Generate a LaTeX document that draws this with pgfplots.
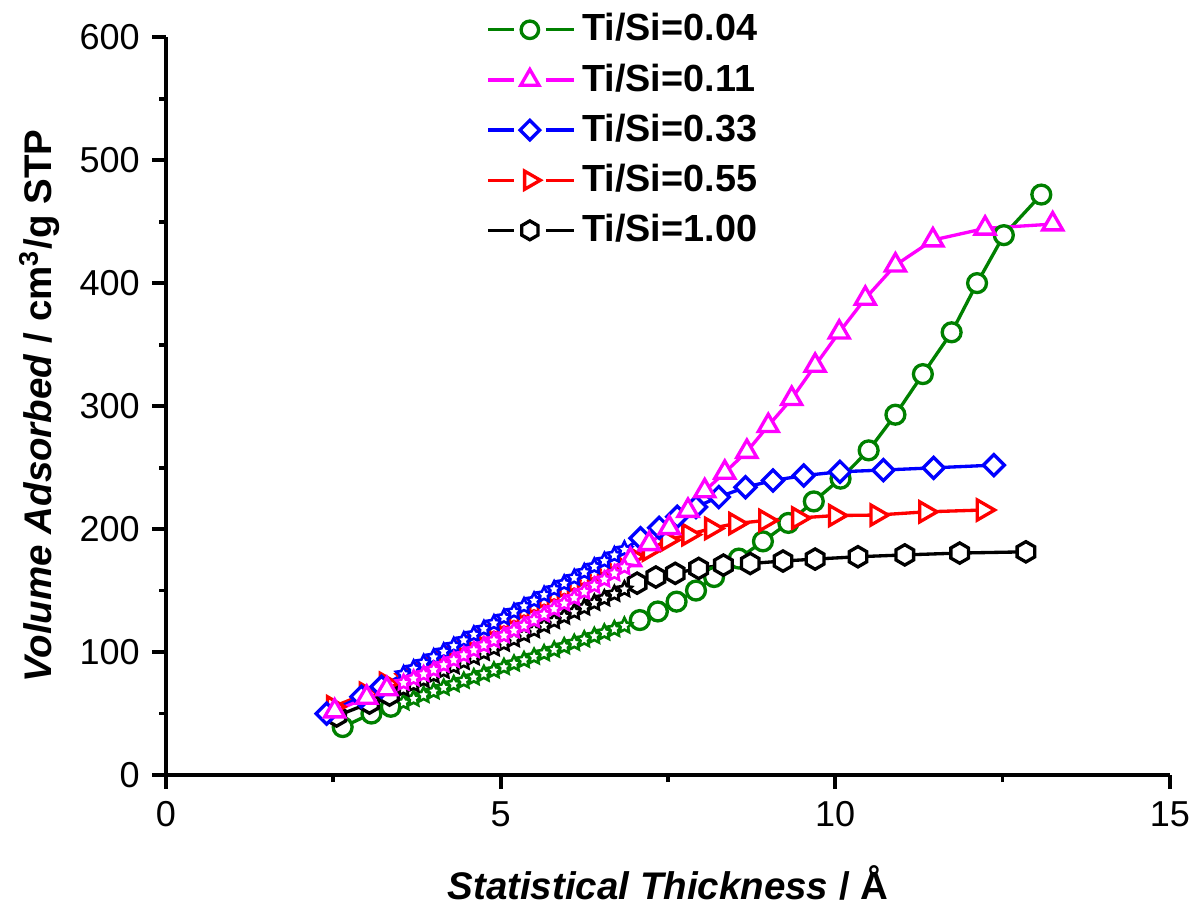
\documentclass[border=0pt]{standalone}
\usepackage{fontspec}
\setmainfont{Liberation Sans}
\usepackage{pgfplots}
\usepackage{pgfplotstable}
\pgfplotsset{compat=1.18}
\usetikzlibrary{plotmarks}

\definecolor{ogreen}{RGB}{0,128,0}
\definecolor{omag}{RGB}{255,0,255}
\definecolor{oblue}{RGB}{0,0,255}
\definecolor{ored}{RGB}{255,0,0}

% open five-point star
\pgfdeclareplotmark{ostar}{%
  \pgfpathmoveto{\pgfpointpolar{90}{\pgfplotmarksize}}%
  \pgfpathlineto{\pgfpointpolar{126}{0.5\pgfplotmarksize}}%
  \pgfpathlineto{\pgfpointpolar{162}{\pgfplotmarksize}}%
  \pgfpathlineto{\pgfpointpolar{198}{0.5\pgfplotmarksize}}%
  \pgfpathlineto{\pgfpointpolar{234}{\pgfplotmarksize}}%
  \pgfpathlineto{\pgfpointpolar{270}{0.5\pgfplotmarksize}}%
  \pgfpathlineto{\pgfpointpolar{306}{\pgfplotmarksize}}%
  \pgfpathlineto{\pgfpointpolar{342}{0.5\pgfplotmarksize}}%
  \pgfpathlineto{\pgfpointpolar{18}{\pgfplotmarksize}}%
  \pgfpathlineto{\pgfpointpolar{54}{0.5\pgfplotmarksize}}%
  \pgfpathclose
  \pgfusepathqfillstroke}
% hexagon, pointy top
\pgfdeclareplotmark{hexa}{%
  \pgfpathmoveto{\pgfpointpolar{90}{\pgfplotmarksize}}%
  \pgfpathlineto{\pgfpointpolar{150}{\pgfplotmarksize}}%
  \pgfpathlineto{\pgfpointpolar{210}{\pgfplotmarksize}}%
  \pgfpathlineto{\pgfpointpolar{270}{\pgfplotmarksize}}%
  \pgfpathlineto{\pgfpointpolar{330}{\pgfplotmarksize}}%
  \pgfpathlineto{\pgfpointpolar{30}{\pgfplotmarksize}}%
  \pgfpathclose
  \pgfusepathqfillstroke}
% square diamond
\pgfdeclareplotmark{sqdiamond}{%
  \pgfpathmoveto{\pgfqpoint{0pt}{\pgfplotmarksize}}%
  \pgfpathlineto{\pgfqpoint{\pgfplotmarksize}{0pt}}%
  \pgfpathlineto{\pgfqpoint{0pt}{-\pgfplotmarksize}}%
  \pgfpathlineto{\pgfqpoint{-\pgfplotmarksize}{0pt}}%
  \pgfpathclose
  \pgfusepathqfillstroke}

% Ti/Si = 0.04
\pgfplotstableread{
x y
2.64 39
3.07 50
3.36 55.5
3.55 59
3.70 62
3.85 65
4.00 68
4.15 71
4.30 73.8
4.45 76.6
4.60 79.4
4.75 82.2
4.90 85
5.05 87.8
5.20 90.6
5.35 93.4
5.50 96.2
5.65 99
5.80 101.8
5.95 104.6
6.10 107.4
6.25 110.2
6.40 113
6.55 115.8
6.70 118.6
6.85 121.4
7.08 126
7.35 133
7.63 141
7.92 150
8.19 161
8.56 176
8.92 190
9.30 205
9.68 222.5
10.08 241
10.50 264
10.90 293
11.31 326
11.74 360
12.12 400
12.52 439
13.08 472
}\tgreen

% Ti/Si = 0.11
\pgfplotstableread{
x y
2.52 52
3.00 63
3.30 70
3.55 75
3.70 78.5
3.85 82
4.00 85.5
4.15 89.5
4.30 93.5
4.45 97.5
4.60 101.5
4.75 105.5
4.90 109.5
5.05 113.5
5.20 117.5
5.35 121.5
5.50 126
5.65 130.5
5.80 135
5.95 139.5
6.10 144
6.25 149
6.40 154
6.55 159
6.70 164
6.85 169
6.94 175
7.22 188
7.52 201
7.80 215
8.05 231
8.35 246
8.68 263
9.00 284
9.35 306
9.70 333
10.06 360
10.45 387.5
10.90 414.6
11.46 435
12.24 444.5
13.25 448
}\tmag

% Ti/Si = 0.33
\pgfplotstableread{
x y
2.40 50
2.92 63.7
3.22 71.8
3.55 82
3.70 86.6
3.85 91.2
4.00 95.8
4.15 100.4
4.30 105
4.45 109.6
4.60 114.2
4.75 118.8
4.90 123.4
5.05 128
5.20 132.7
5.35 137.3
5.50 141.9
5.65 146.5
5.80 151.1
5.95 155.7
6.10 160.3
6.25 164.9
6.40 169.5
6.55 174.1
6.70 178.7
6.85 183.3
7.09 192.5
7.37 201
7.64 210
7.92 218
8.26 226
8.66 234
9.07 239.5
9.53 243.5
10.07 246.6
10.72 248
11.47 249.8
12.37 252
}\tblue

% Ti/Si = 0.55
\pgfplotstableread{
x y
2.50 55.5
2.99 66.4
3.29 74.5
3.55 80
3.70 84.4
3.85 88.8
4.00 93.2
4.15 97.6
4.30 102
4.45 106.4
4.60 110.8
4.75 115.2
4.90 119.6
5.05 124
5.20 128.4
5.35 132.8
5.50 137.2
5.65 141.6
5.80 146
5.95 150.4
6.10 154.8
6.25 159.2
6.40 163.6
6.55 168
6.70 172.4
6.85 176.8
6.97 177.5
7.22 183
7.49 191
7.81 195.5
8.15 200.5
8.51 204.5
8.96 207
9.45 209
10.00 211
10.62 211.4
11.35 214
12.21 215.5
}\tred

% Ti/Si = 1.00
\pgfplotstableread{
x y
2.55 48
3.04 58.5
3.34 65
3.55 70
3.70 73.7
3.85 77.4
4.00 81
4.15 84.7
4.30 88.4
4.45 92
4.60 95.7
4.75 99.4
4.90 103
5.05 106.8
5.20 110.4
5.35 114.1
5.50 117.8
5.65 121.5
5.80 125.2
5.95 128.8
6.10 132.6
6.25 136.2
6.40 140
6.55 143.6
6.70 147.3
6.85 151
7.04 156
7.32 161
7.61 164
7.96 168
8.33 170.7
8.73 172
9.22 174
9.70 175.6
10.34 177.5
11.04 179
11.86 180.5
12.85 181.5
}\tblack

\begin{document}
\begin{tikzpicture}
\begin{axis}[
    scale only axis,
    width=10.08cm, height=7.41cm,
    xmin=0, xmax=15, ymin=0, ymax=600,
    axis lines=left,
    axis line style={-, line width=1.1pt},
    xtick={0,5,10,15}, minor xtick={2.5,7.5,12.5},
    ytick={0,100,...,600}, minor ytick={50,150,...,550},
    tick align=outside,
    major tick length=0.14cm, minor tick length=0.07cm,
    tick style={line width=1.1pt, black},
    ticklabel style={font=\fontsize{10.3}{12}\selectfont},
    /pgf/number format/assume math mode=true,
    xlabel={\textbf{\textit{Statistical Thickness} / Å}},
    ylabel={\textbf{\textit{Volume Adsorbed} / cm\textsuperscript{3}/g STP}},
    xlabel style={at={(axis description cs:0.5,-0.146)}, anchor=center, font=\fontsize{11}{13}\selectfont},
    ylabel style={at={(axis description cs:-0.126,0.5)}, anchor=center, font=\fontsize{11}{13}\selectfont},
    clip=false,
    every axis plot/.append style={line width=0.95pt},
    star style/.style={only marks, mark=ostar, mark size=2.25pt,
        mark options={fill=white, line width=0.75pt}},
    legend cell align=left,
    legend style={draw=none, fill=none, at={(0.308,1.052)}, anchor=north west,
        font=\fontsize{10.8}{13}\selectfont\bfseries, row sep=1pt},
    legend image code/.code={
        \draw[#1, mark=none] (0cm,0cm) -- (0.26cm,0cm);
        \draw[#1, mark=none] (0.58cm,0cm) -- (0.86cm,0cm);
        \draw[#1, only marks] plot coordinates {(0.42cm,0cm)};
    },
]
\coordinate (O) at (axis cs:0,0);

% Ti/Si=0.04
\addplot[ogreen, forget plot, mark=*, mark size=2.7pt, mark options={fill=white},
    mark indices={1,2,3,27,28,29,30,31,32,33,34,35,36,37,38,39,40,41,42,43}] table {\tgreen};
\addplot[ogreen, forget plot, star style,
    mark indices={4,5,6,7,8,9,10,11,12,13,14,15,16,17,18,19,20,21,22,23,24,25,26}] table {\tgreen};

% Ti/Si=1.00
\addplot[black, forget plot, mark=hexa, mark size=2.9pt, mark options={fill=white},
    mark indices={1,2,3,27,28,29,30,31,32,33,34,35,36,37,38}] table {\tblack};
\addplot[black, forget plot, star style,
    mark indices={4,5,6,7,8,9,10,11,12,13,14,15,16,17,18,19,20,21,22,23,24,25,26}] table {\tblack};

% Ti/Si=0.55
\addplot[ored, forget plot, mark=triangle*, mark size=3.3pt, mark options={fill=white, rotate=-90},
    mark indices={1,2,3,27,28,29,30,31,32,33,34,35,36,37,38}] table {\tred};
\addplot[ored, forget plot, star style,
    mark indices={4,5,6,7,8,9,10,11,12,13,14,15,16,17,18,19,20,21,22,23,24,25,26}] table {\tred};

% Ti/Si=0.33
\addplot[oblue, forget plot, mark=sqdiamond, mark size=3.0pt, mark options={fill=white},
    mark indices={1,2,3,27,28,29,30,31,32,33,34,35,36,37,38}] table {\tblue};
\addplot[oblue, forget plot, star style,
    mark indices={4,5,6,7,8,9,10,11,12,13,14,15,16,17,18,19,20,21,22,23,24,25,26}] table {\tblue};

% Ti/Si=0.11
\addplot[omag, forget plot, mark=triangle*, mark size=3.3pt, mark options={fill=white},
    mark indices={1,2,3,27,28,29,30,31,32,33,34,35,36,37,38,39,40,41,42}] table {\tmag};
\addplot[omag, forget plot, star style,
    mark indices={4,5,6,7,8,9,10,11,12,13,14,15,16,17,18,19,20,21,22,23,24,25,26}] table {\tmag};

\addlegendimage{ogreen, line width=0.95pt, mark=*, mark size=2.5pt, mark options={fill=white}}
\addlegendentry{Ti/Si=0.04}
\addlegendimage{omag, line width=0.95pt, mark=triangle*, mark size=3.0pt, mark options={fill=white}}
\addlegendentry{Ti/Si=0.11}
\addlegendimage{oblue, line width=0.95pt, mark=sqdiamond, mark size=2.8pt, mark options={fill=white}}
\addlegendentry{Ti/Si=0.33}
\addlegendimage{ored, line width=0.95pt, mark=triangle*, mark size=3.0pt, mark options={fill=white, rotate=-90}}
\addlegendentry{Ti/Si=0.55}
\addlegendimage{black, line width=0.95pt, mark=hexa, mark size=2.7pt, mark options={fill=white}}
\addlegendentry{Ti/Si=1.00}
\end{axis}
\pgfresetboundingbox
\path[use as bounding box] ([shift={(-1.667cm,-1.316cm)}]O) rectangle ([shift={(10.333cm,7.783cm)}]O);
\end{tikzpicture}
\end{document}
